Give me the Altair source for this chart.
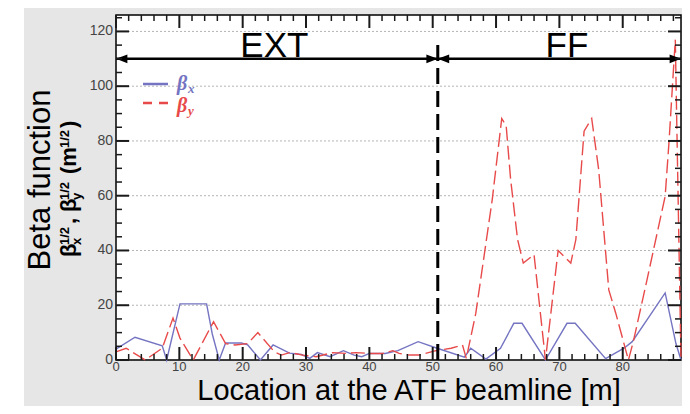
import altair as alt
import pandas as pd

# ---------------- data ----------------
bx_s = [0, 3.0, 7.3, 8.0, 10.1, 14.3, 15.2, 16.3, 17.3, 19.8, 20.8, 22.8, 24.8,
        27.4, 29.3, 30.6, 31.8, 33.8, 35.9, 37.6, 38.8, 40.0, 42.5, 44.5, 47.7,
        50.7, 55.0, 56.0, 58.4, 60.7, 62.8, 64.1, 67.8, 71.2, 72.5, 77.3, 80.2,
        81.5, 86.7, 88.4, 89.2]
bx = [4.0, 8.3, 5.2, 0.0, 20.5, 20.5, 9.5, 0.0, 6.2, 6.2, 5.5, 0.0, 5.5,
      2.5, 2.0, 0.6, 2.7, 1.2, 3.4, 1.8, 1.2, 2.4, 2.4, 3.4, 6.7,
      4.3, 1.0, 4.3, 0.3, 4.3, 13.4, 13.4, 0.0, 13.4, 13.4, 0.5, 4.3,
      6.7, 24.5, 6.0, 0.0]

by_s = [0, 1.6, 4.6, 7.3, 9.0, 10.1, 12.2, 15.4, 17.3, 18.8, 20.8, 22.4, 25.0,
        26.1, 27.4, 29.5, 31.6, 34.2, 36.3, 37.9, 40.0, 42.1, 43.7, 44.7, 46.3,
        47.9, 50.5, 52.9, 54.7, 55.3, 56.8, 59.4, 60.9, 61.6, 62.3, 63.4, 64.3,
        66.0, 67.8, 69.8, 71.8, 72.6, 73.9, 75.1, 76.2, 77.8, 78.9, 80.9, 81.7,
        83.6, 86.7, 87.3, 88.3, 89.2]
by = [3.0, 4.3, 0.0, 4.3, 15.3, 8.0, 0.0, 14.0, 6.0, 5.5, 6.0, 10.0, 3.0,
      1.8, 2.7, 1.8, 1.2, 2.7, 2.4, 2.7, 2.4, 2.4, 3.4, 2.4, 1.8,
      1.8, 3.4, 4.3, 5.5, 0.6, 17.0, 58.6, 88.2, 85.5, 66.0, 44.0, 35.4,
      38.5, 0.0, 40.0, 35.4, 44.0, 83.6, 88.2, 69.6, 25.6, 17.1, 0.0, 7.0,
      26.8, 59.8, 79.4, 117.0, 0.0]

section_names = ["EXT", "FF"]
section_label_x = [25.0, 71.2]
boundary_x = [50.8]
boundary_top = [117.0]
arrow_y = [110.0]
arrow_from = [0.0, 50.8]
arrow_to = [50.8, 89.2]

x_major = [0, 10, 20, 30, 40, 50, 60, 70, 80]
x_minor = [v for v in range(0, 90, 2) if v % 10]
y_major = [0, 20, 40, 60, 80, 100, 120]
y_minor = [v for v in range(0, 126, 5) if v % 20]
grid_y = [20, 40, 60, 80, 100, 120]

X_DOMAIN = [0, 89.2]
Y_DOMAIN = [0, 126]

# ---------------- layout / style ----------------
W, H = 565, 345
BLUE = "#7474c2"
RED = "#e84a4a"
FONT = "Liberation Sans"
LABEL_COLOR = "#444444"

xs = alt.Scale(domain=X_DOMAIN, nice=False, zero=False)
ys = alt.Scale(domain=Y_DOMAIN, nice=False, zero=False)

one = pd.DataFrame({"a": [0]})

# white page strip left of the grey panel
strip_left = alt.Chart(one).mark_rect(color="white").encode(
    x=alt.value(-108), x2=alt.value(-92), y=alt.value(-7), y2=alt.value(400))

grid = alt.Chart(pd.DataFrame({"v": grid_y})).mark_rule(
    color="#b4b4b4", strokeWidth=1, strokeDash=[2, 2]).encode(
    y=alt.Y("v:Q", scale=ys, axis=None), x=alt.value(0), x2=alt.value(W))

df_bx = pd.DataFrame({"s": bx_s, "b": bx})
df_by = pd.DataFrame({"s": by_s, "b": by})

line_bx = alt.Chart(df_bx).mark_line(color=BLUE, strokeWidth=1.4).encode(
    x=alt.X("s:Q", scale=xs, axis=None),
    y=alt.Y("b:Q", scale=ys, axis=None))

line_by = alt.Chart(df_by).mark_line(color=RED, strokeWidth=1.4,
                                     strokeDash=[14, 5]).encode(
    x=alt.X("s:Q", scale=xs, axis=None),
    y=alt.Y("b:Q", scale=ys, axis=None))

boundary = alt.Chart(pd.DataFrame({"x": boundary_x, "y0": [0], "y1": boundary_top})).mark_rule(
    color="black", strokeWidth=3, strokeDash=[16, 7]).encode(
    x=alt.X("x:Q", scale=xs, axis=None),
    y=alt.Y("y0:Q", scale=ys, axis=None), y2="y1:Q")

arrows = alt.Chart(pd.DataFrame({"a": arrow_from, "b": arrow_to,
                                 "y": arrow_y * 2})).mark_rule(
    color="black", strokeWidth=2.5).encode(
    x=alt.X("a:Q", scale=xs, axis=None), x2="b:Q",
    y=alt.Y("y:Q", scale=ys, axis=None))

head_x = [arrow_from[0], arrow_to[0], arrow_from[1], arrow_to[1]]
head_dir = ["L", "R", "L", "R"]
PATH_L = "M 0 0 L 1 -0.38 L 1 0.38 Z"
PATH_R = "M 0 0 L -1 -0.38 L -1 0.38 Z"
heads = alt.Chart(pd.DataFrame({"x": head_x, "d": head_dir,
                                "y": arrow_y * 4})).mark_point(
    filled=True, color="black", opacity=1, size=520, strokeWidth=0).encode(
    x=alt.X("x:Q", scale=xs, axis=None),
    y=alt.Y("y:Q", scale=ys, axis=None),
    shape=alt.Shape("d:N", scale=alt.Scale(domain=["L", "R"],
                                           range=[PATH_L, PATH_R]), legend=None))

sect = alt.Chart(pd.DataFrame({"x": section_label_x, "t": section_names})).mark_text(
    font=FONT, fontSize=35, baseline="alphabetic", align="center", color="black").encode(
    x=alt.X("x:Q", scale=xs, axis=None), y=alt.value(42), text="t:N")

# tick labels (data driven through the scales)
xlab = alt.Chart(pd.DataFrame({"v": x_major, "t": [str(v) for v in x_major]})).mark_text(
    font=FONT, fontSize=13, color=LABEL_COLOR, align="center", baseline="middle").encode(
    x=alt.X("v:Q", scale=xs, axis=None), y=alt.value(H + 7), text="t:N")
ylab = alt.Chart(pd.DataFrame({"v": y_major, "t": [str(v) for v in y_major]})).mark_text(
    font=FONT, fontSize=14, color=LABEL_COLOR, align="right", baseline="middle").encode(
    y=alt.Y("v:Q", scale=ys, axis=None), x=alt.value(-3), text="t:N")

# ticks drawn inside on all four sides
def xticks(vals, y0, y1, w):
    return alt.Chart(pd.DataFrame({"v": vals})).mark_rule(
        color="#1a1a1a", strokeWidth=w).encode(
        x=alt.X("v:Q", scale=xs, axis=None), y=alt.value(y0), y2=alt.value(y1))

def yticks(vals, x0, x1, w):
    return alt.Chart(pd.DataFrame({"v": vals})).mark_rule(
        color="#1a1a1a", strokeWidth=w).encode(
        y=alt.Y("v:Q", scale=ys, axis=None), x=alt.value(x0), x2=alt.value(x1))

ticks = [
    xticks(x_major, H, H - 13, 2), xticks(x_minor, H, H - 6, 1.5),
    xticks(x_major, 0, 13, 2), xticks(x_minor, 0, 6, 1.5),
    yticks(y_major, 0, 13, 2), yticks(y_minor, 0, 6, 1.5),
    yticks(y_major, W, W - 13, 2), yticks(y_minor, W, W - 6, 1.5),
]

# legend (manual, inside upper-left)
leg_lines = alt.Chart(pd.DataFrame({"x0": [27, 27], "x1": [52, 52], "y": [69, 88],
                                    "k": ["bx", "by"]})).mark_rule(strokeWidth=2.5).encode(
    x=alt.X("x0:Q", scale=None, axis=None), x2="x1:Q",
    y=alt.Y("y:Q", scale=None, axis=None),
    color=alt.Color("k:N", scale=alt.Scale(domain=["bx", "by"], range=[BLUE, RED]), legend=None),
    strokeDash=alt.StrokeDash("k:N", scale=alt.Scale(domain=["bx", "by"],
                                                     range=[[1, 0], [9, 7]]), legend=None))

leg_text = alt.Chart(pd.DataFrame({
    "t": ["β", "x", "β", "y"],
    "px": [61, 72, 61, 72],
    "py": [75, 78, 97, 100],
    "fs": [20, 13, 20, 13],
    "c": [BLUE, BLUE, RED, RED]})).mark_text(
    font="Liberation Serif", fontStyle="italic", fontWeight="bold",
    align="left", baseline="alphabetic").encode(
    x=alt.X("px:Q", scale=None, axis=None), y=alt.Y("py:Q", scale=None, axis=None),
    text="t:N", size=alt.Size("fs:Q", scale=None, legend=None),
    color=alt.Color("c:N", scale=None, legend=None))

# axis titles
xtitle = alt.Chart(one).mark_text(font=FONT, fontSize=29, align="center",
                                  baseline="alphabetic", color="black",
                                  text="Location at the ATF beamline [m]").encode(
    x=alt.value(293), y=alt.value(385))

ytitle = alt.Chart(one).mark_text(font=FONT, fontSize=31, align="center",
                                  baseline="alphabetic", color="black", angle=270,
                                  text="Beta function").encode(
    x=alt.value(-66), y=alt.value(165))

ysub = alt.Chart(pd.DataFrame({
    "t": ["β", "x", "1/2", ",", "β", "y", "1/2", "(m", "1/2", ")"],
    "px": [-40, -35, -47, -40, -40, -35, -47, -40, -47, -40],
    "py": [242, 230, 230, 209, 197, 185, 185, 159, 133, 113],
    "fs": [22, 13, 13, 22, 22, 13, 13, 22, 13, 22]})).mark_text(
    font=FONT, fontWeight="bold", align="left", baseline="alphabetic",
    angle=270, color="black").encode(
    x=alt.X("px:Q", scale=None, axis=None), y=alt.Y("py:Q", scale=None, axis=None),
    text="t:N", size=alt.Size("fs:Q", scale=None, legend=None))

chart = alt.layer(
    strip_left, grid, line_bx, line_by, boundary, arrows, heads, sect,
    *ticks, xlab, ylab, leg_lines, leg_text, xtitle, ytitle, ysub
).properties(
    width=W, height=H,
    autosize=alt.AutoSizeParams(type="none"),
    padding={"left": 108, "top": 7, "right": 1, "bottom": 46},
    background="#e6e6e6",
).configure_view(
    stroke="black", strokeWidth=1.5, fill="white"
)

chart.save("out.html", embed_options={"renderer": "svg", "actions": False})
